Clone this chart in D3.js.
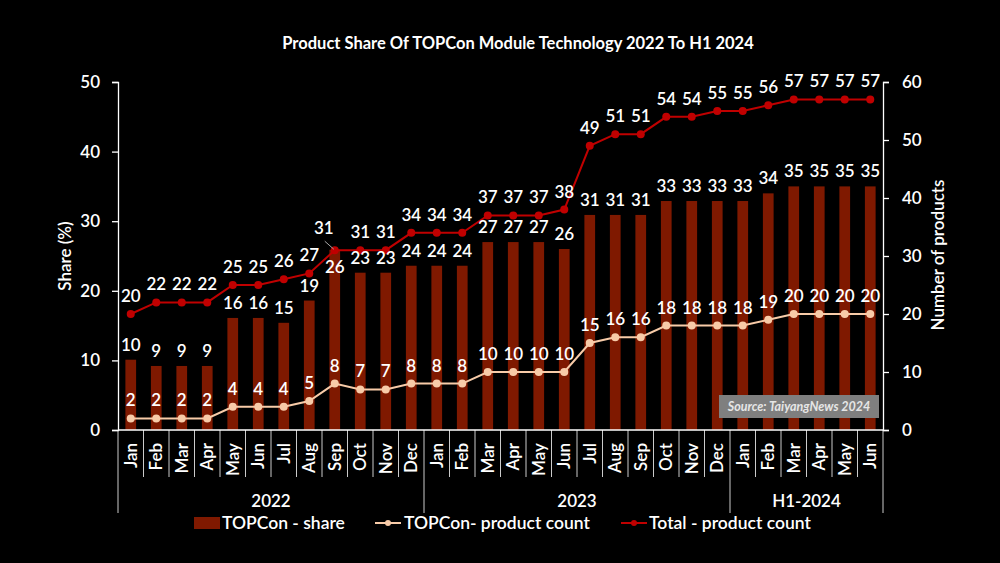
<!DOCTYPE html>
<html>
<head>
<meta charset="utf-8">
<script src="https://cdn.jsdelivr.net/npm/d3@7"></script>
<style>
  html, body { margin: 0; padding: 0; background: #000; }
  svg { display: block; }
  text { font-family: Lato, "Open Sans", sans-serif; fill: #fff; }
</style>
</head>
<body>
<svg width="1000" height="563"></svg>
<script>
// данные графика
const months = ["Jan", "Feb", "Mar", "Apr", "May", "Jun", "Jul", "Aug", "Sep", "Oct", "Nov", "Dec",
                "Jan", "Feb", "Mar", "Apr", "May", "Jun", "Jul", "Aug", "Sep", "Oct", "Nov", "Dec",
                "Jan", "Feb", "Mar", "Apr", "May", "Jun"];
const years = ["2022", "2023", "H1-2024"];
const yearSize = [12, 12, 6];
// TOPCon - share, %
const share = [10.1, 9.2, 9.2, 9.2, 16.1, 16.1, 15.4, 18.6, 25.9, 22.6, 22.6, 23.6,
               23.6, 23.6, 27.0, 27.0, 27.0, 26.0, 30.9, 30.9, 30.9, 32.9, 32.9, 32.9,
               32.9, 34.0, 35.0, 35.0, 35.0, 35.0];
// TOPCon - product count
const topconCount = [2, 2, 2, 2, 4, 4, 4, 5, 8, 7, 7, 8,
                     8, 8, 10, 10, 10, 10, 15, 16, 16, 18, 18, 18,
                     18, 19, 20, 20, 20, 20];
// Total - product count
const totalCount = [20, 22, 22, 22, 25, 25, 26, 27, 31, 31, 31, 34,
                    34, 34, 37, 37, 37, 38, 49, 51, 51, 54, 54, 55,
                    55, 56, 57, 57, 57, 57];
const shareTicks = [0, 10, 20, 30, 40, 50];
const countTicks = [0, 10, 20, 30, 40, 50, 60];

const barColor = "#7f1900";
const peach = "#f8cba8";
const red = "#c00000";

const svg = d3.select("svg");
const area = { left: 118, right: 883, top: 82, bottom: 430 };

const idx = months.map((d, i) => i);
const scX = d3.scaleBand().domain(idx).range([area.left, area.right]);
const scY = d3.scaleLinear().domain([0, 50]).range([area.bottom, area.top]);
const scY2 = d3.scaleLinear().domain([0, 60]).range([area.bottom, area.top]);
const cx = i => scX(i) + scX.bandwidth() / 2;

// заголовок
svg.append("text")
    .attr("x", 518).attr("y", 49)
    .attr("text-anchor", "middle")
    .style("font-size", "16.5px").style("font-weight", "bold")
    .text("Product Share Of TOPCon Module Technology 2022 To H1 2024");

// оси OY
const axisL = svg.append("g")
    .attr("transform", `translate(${area.left},0)`)
    .call(d3.axisLeft(scY).tickValues(shareTicks).tickSize(6).tickPadding(12));
const axisR = svg.append("g")
    .attr("transform", `translate(${area.right},0)`)
    .call(d3.axisRight(scY2).tickValues(countTicks).tickSize(6).tickPadding(13));
[axisL, axisR].forEach(g => {
    g.select(".domain").attr("stroke", "#fff").attr("stroke-width", 1.3);
    g.selectAll(".tick line").attr("stroke", "#fff").attr("stroke-width", 1.3);
    g.selectAll(".tick text").attr("fill", "#fff")
        .style("font-size", "17px").style("font-weight", 600).style("font-family", "Lato, sans-serif");
});

svg.append("text")
    .attr("transform", "translate(71,256) rotate(-90)")
    .attr("text-anchor", "middle")
    .style("font-size", "17px").style("font-weight", 600)
    .text("Share (%)");
svg.append("text")
    .attr("transform", "translate(944,255) rotate(-90)")
    .attr("text-anchor", "middle")
    .style("font-size", "17px").style("font-weight", 600)
    .text("Number of products");

// столбцы
const barW = scX.bandwidth() * 0.42;
svg.selectAll(".bar")
    .data(share)
    .enter()
    .append("rect")
    .attr("x", (d, i) => cx(i) - barW / 2)
    .attr("y", d => scY(d))
    .attr("width", barW)
    .attr("height", d => area.bottom - scY(d))
    .style("fill", barColor);

// ось OX
svg.append("line")
    .attr("x1", area.left).attr("x2", area.right)
    .attr("y1", area.bottom).attr("y2", area.bottom)
    .attr("stroke", "#fff").attr("stroke-width", 1.3);

// разделители месяцев и годов
let yearStart = [0];
yearSize.forEach((n, k) => yearStart.push(yearStart[k] + n));
const tickX = d3.range(months.length + 1).map(i => i < months.length ? scX(i) : area.right);
svg.selectAll(".mtick")
    .data(tickX)
    .enter()
    .append("line")
    .attr("x1", d => d).attr("x2", d => d)
    .attr("y1", area.bottom)
    .attr("y2", (d, i) => yearStart.includes(i) ? 513 : 477)
    .attr("stroke", "#fff").attr("stroke-width", 0.8);

svg.selectAll(".mlabel")
    .data(months)
    .enter()
    .append("text")
    .attr("transform", (d, i) => `translate(${cx(i) + 6},443) rotate(-90)`)
    .attr("text-anchor", "end")
    .style("font-size", "17px").style("font-weight", 600)
    .text(d => d);

svg.selectAll(".ylabel")
    .data(years)
    .enter()
    .append("text")
    .attr("x", (d, k) => (tickX[yearStart[k]] + tickX[yearStart[k + 1]]) / 2)
    .attr("y", 507)
    .attr("text-anchor", "middle")
    .style("font-size", "17px").style("font-weight", 600)
    .text(d => d);

// линии
function drawLine(values, color, r) {
    const line = d3.line().x((d, i) => cx(i)).y(d => scY2(d));
    svg.append("path")
        .datum(values)
        .attr("d", line)
        .attr("fill", "none")
        .attr("stroke", color)
        .attr("stroke-width", 2);
    svg.selectAll(null)
        .data(values)
        .enter()
        .append("circle")
        .attr("cx", (d, i) => cx(i))
        .attr("cy", d => scY2(d))
        .attr("r", r)
        .style("fill", color);
}
drawLine(topconCount, peach, 4);
drawLine(totalCount, red, 4);

// подписи значений
function drawLabels(values, yFn, dyFn, dxFn) {
    svg.selectAll(null)
        .data(values)
        .enter()
        .append("text")
        .attr("x", (d, i) => cx(i) + dxFn(i))
        .attr("y", (d, i) => yFn(d) + dyFn(i))
        .attr("text-anchor", "middle")
        .style("font-size", "17px").style("font-weight", 600)
        .text(d => Math.round(d));
}
// Sep 2022 (индекс 8) сдвинуты вручную, как в оригинале
drawLabels(share, scY, i => i == 8 ? 23 : -9, i => 0);
drawLabels(topconCount, scY2, i => -12, i => 0);
drawLabels(totalCount, scY2, i => i == 8 ? -16 : -12, i => i == 8 ? -11 : 0);

svg.append("line")
    .attr("x1", cx(8) - 10).attr("y1", scY2(totalCount[8]) - 9)
    .attr("x2", cx(8) - 1).attr("y2", scY2(totalCount[8]) - 1)
    .attr("stroke", "#a6a6a6").attr("stroke-width", 1);

// источник
svg.append("rect")
    .attr("x", 719).attr("y", 395)
    .attr("width", 160).attr("height", 23)
    .style("fill", "#7f7f7f");
svg.append("text")
    .attr("x", 799).attr("y", 411)
    .attr("text-anchor", "middle")
    .style("font-size", "12.5px").style("font-style", "italic").style("font-weight", "bold")
    .style("fill", "#e6e6e6")
    .text("Source: TaiyangNews 2024");

// легенда
const lg = svg.append("g");
lg.append("rect").attr("x", 194).attr("y", 517).attr("width", 26).attr("height", 12).style("fill", barColor);
lg.append("text").attr("x", 222).attr("y", 529).style("font-size", "17.5px").style("font-weight", 600).text("TOPCon - share");
lg.append("line").attr("x1", 375).attr("x2", 401).attr("y1", 523).attr("y2", 523)
    .attr("stroke", peach).attr("stroke-width", 2);
lg.append("circle").attr("cx", 388).attr("cy", 523).attr("r", 3).style("fill", peach);
lg.append("text").attr("x", 404).attr("y", 529).style("font-size", "17.5px").style("font-weight", 600).text("TOPCon- product count");
lg.append("line").attr("x1", 621).attr("x2", 647).attr("y1", 523).attr("y2", 523)
    .attr("stroke", red).attr("stroke-width", 2);
lg.append("circle").attr("cx", 634).attr("cy", 523).attr("r", 3).style("fill", red);
lg.append("text").attr("x", 649).attr("y", 529).style("font-size", "17.5px").style("font-weight", 600).text("Total - product count");
</script>
</body>
</html>
